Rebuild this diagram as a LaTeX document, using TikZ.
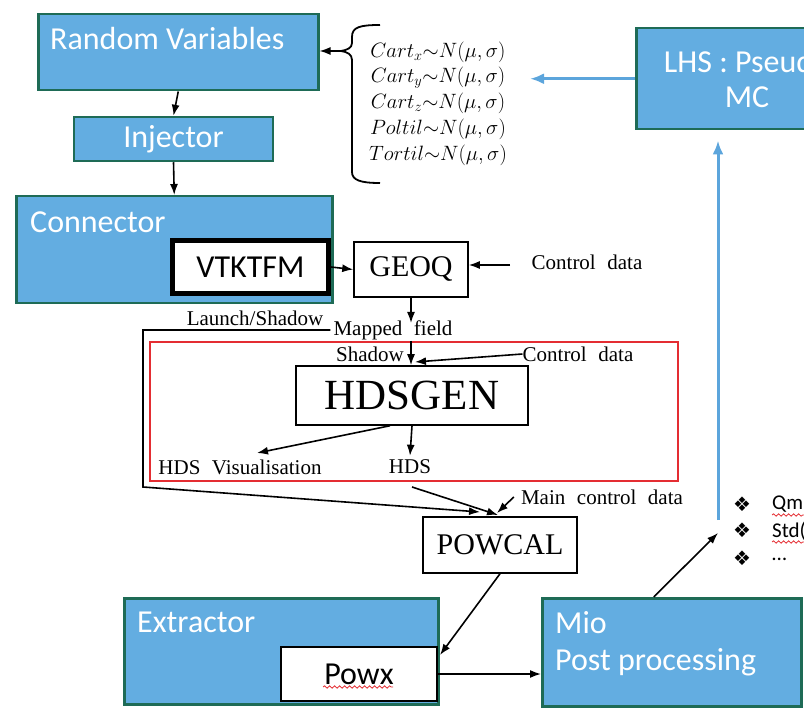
\documentclass[tikz,border=0pt]{standalone}
\usepackage{fontspec}
\setmainfont{Liberation Serif}
\newfontfamily\boxfont{Carlito}
\newfontfamily\symbfont{DejaVu Sans}
\usetikzlibrary{positioning,arrows.meta,calc,decorations.pathmorphing}
\definecolor{boxblue}{RGB}{99,173,225}
\definecolor{boxedge}{RGB}{30,107,86}
\definecolor{arrblue}{RGB}{92,165,220}
\definecolor{framered}{RGB}{228,45,50}
\newcommand\widesp{\spaceskip=0.55em\relax}
\tikzset{
  bluebox/.style={draw=boxedge,line width=2.5pt,fill=boxblue,inner sep=0pt},
  bluetxt/.style={text=white,inner sep=0pt,font=\boxfont\fontsize{32}{40}\selectfont},
  codebox/.style={draw,line width=1.5pt,fill=white,inner sep=0pt,font=\fontsize{30}{34}\selectfont},
  small/.style={inner sep=0pt,font=\fontsize{21}{24}\selectfont,execute at begin node=\widesp},
  formula/.style={inner sep=0pt,font=\fontsize{20}{24}\selectfont},
  bull/.style={inner sep=0pt,font=\symbfont\fontsize{20}{22}\selectfont},
  listtxt/.style={inner sep=0pt,font=\boxfont\fontsize{21}{24}\selectfont},
  flow/.style={->,line width=1.6pt},
  bluearr/.style={-{Latex[length=14pt,width=11pt]},arrblue,line width=3pt},
  wavy/.style={framered,line width=0.8pt,decorate,decoration={snake,amplitude=1.2pt,segment length=5pt}}
}

\begin{document}
\begin{tikzpicture}[x=1pt,y=-1pt,>={Latex[length=11pt,width=8pt]}]
  \useasboundingbox (0,0) rectangle (804,722);
  \clip (0,0) rectangle (804,722);

  \node[bluebox,minimum width=280pt,minimum height=76pt,anchor=north west] (rv) at (37,13) {};
  \node[bluetxt,anchor=west] (rvtxt) at (50,39) {Random Variables};
  \node[bluebox,bluetxt,minimum width=199pt,minimum height=44pt] (inj) at (173.5,139) {Injector};
  \node[bluebox,minimum width=316pt,minimum height=107pt,anchor=north west] (conn) at (15,195) {};
  \node[bluetxt,anchor=west] (conntxt) at (30,222) {Connector};
  \node[draw,line width=5pt,fill=white,inner sep=0pt,minimum width=156pt,minimum height=53pt,
        font=\boxfont\fontsize{32}{36}\selectfont] (vtk) at (250.5,267) {VTKTFM};
  \draw[flow] (rv.south) -- (inj.north);
  \draw[flow] (inj.south) -- (conn.north);

  \draw[line width=1.8pt] (380,25) .. controls (360,25) and (352,27) .. (352,37) -- (352,43)
    .. controls (352,48) and (347,50) .. (341,51) coordinate (cusp)
    .. controls (347,52) and (352,54) .. (352,60) -- (352,172)
    .. controls (352,180) and (360,183) .. (380,183);
  \draw[flow] (cusp) -- (cusp -| rv.east);
  \node[formula] (fx) at (438,52) {$Cart_x{\sim}N(\mu,\sigma)$};
  \node[formula] (fy) at (438,78) {$Cart_y{\sim}N(\mu,\sigma)$};
  \node[formula] (fz) at (438,103) {$Cart_z{\sim}N(\mu,\sigma)$};
  \node[formula] (fp) at (438,129) {$Poltil{\sim}N(\mu,\sigma)$};
  \node[formula] (ft) at (438,155) {$Tortil{\sim}N(\mu,\sigma)$};

  \node[bluebox,minimum width=227pt,minimum height=101pt,anchor=north west] (lhs) at (635,27) {};
  \node[bluetxt,align=center,font=\boxfont\fontsize{32}{35}\selectfont] (lhstxt) at (747,79) {LHS : Pseudo\\MC};
  \draw[bluearr] (lhs.west) -- ++(-105,0);

  \node[codebox,minimum width=114pt,minimum height=55pt] (geoq) at (411,269.5) {GEOQ};
  \node[small] (ctrla) at (587,262) {Control data};
  \coordinate (ctrlaend) at (510,265);
  \draw[flow] (vtk.east) -- (geoq.west);
  \draw[flow] (ctrlaend) -- (ctrlaend -| geoq.east);

  \node[small] (launch) at (255,318) {Launch/Shadow};
  \node[small] (mapped) at (393,330) {Mapped field};
  \coordinate (mftop) at (411,323);
  \coordinate (mfbot) at (411,341);
  \draw[flow] (geoq.south) -- (mftop);

  \draw[framered,line width=1.5pt] (150,342) rectangle (678,481);
  \node[codebox,minimum width=232pt,minimum height=59pt,font=\fontsize{43}{46}\selectfont] (hdsgen) at (412,395.5) {HDSGEN};
  \node[small] (shadow) at (370,354) {Shadow};
  \node[small] (ctrlb) at (578,354) {Control data};
  \coordinate (ctrlbend) at (415,362);
  \draw[flow] (mfbot) -- (mfbot |- hdsgen.north);
  \draw[flow] (ctrlb.west) -- (ctrlbend);
  \node[small] (hdsvis) at (240,467) {HDS Visualisation};
  \node[small] (hds) at (410,467) {HDS};
  \coordinate (visend) at (257,453);
  \draw[flow] ([xshift=-22pt]hdsgen.south) -- (visend);
  \draw[flow] (hdsgen.south) -- ([yshift=4pt]hds.north);

  \node[codebox,minimum width=154pt,minimum height=56pt] (powcal) at (500,545) {POWCAL};
  \node[small] (mainctrl) at (602,497) {Main control data};
  \coordinate (lcorner) at (143,487);
  \coordinate (lend) at (480,512);
  \coordinate (hdsout) at (412,487);
  \coordinate (hdsend) at (498,515);
  \coordinate (mainend) at (497,513);
  \draw[flow] ([xshift=-3pt]mapped.west) -| (lcorner) -- (lend);
  \draw[flow] (hdsout) -- (hdsend);
  \draw[flow] ([xshift=-7pt]mainctrl.west) -- (mainend);

  \node[bluebox,minimum width=314pt,minimum height=106pt,anchor=north west] (extr) at (123,597) {};
  \node[bluetxt,anchor=west] (extrtxt) at (137,622) {Extractor};
  \node[draw,line width=2.5pt,fill=white,inner sep=0pt,minimum width=156pt,minimum height=54pt,
        font=\boxfont\fontsize{32}{36}\selectfont] (powx) at (359,674) {Powx};
  \draw[wavy] (323,687) -- (393,687);
  \node[bluebox,minimum width=259pt,minimum height=108pt,anchor=north west] (mio) at (541,597) {};
  \node[bluetxt,anchor=west] (miotxt) at (555,623) {Mio};
  \node[bluetxt,anchor=west] (pptxt) at (555,662) {Post processing};
  \coordinate (powxin) at (440,655);
  \draw[flow] (powcal.south) -- (powxin);
  \draw[flow] (powx.east) -- (powx.east -| mio.west);

  \node[bull] (b1) at (742,504) {❖};
  \node[bull] (b2) at (742,530) {❖};
  \node[bull] (b3) at (742,558) {❖};
  \node[listtxt,anchor=west] (qm) at (772,504) {Qm};
  \node[listtxt,anchor=west] (std) at (772,531) {Std(};
  \node[listtxt,anchor=west] (dots) at (772,559) {…};
  \draw[wavy] (772,515) -- (804,515);
  \draw[wavy] (772,542) -- (804,542);
  \coordinate (listin) at (718,533);
  \coordinate (upstart) at (718,520);
  \draw[flow] ([xshift=-18pt]mio.north) -- (listin);
  \draw[bluearr,shorten >=10pt] (upstart) -- (upstart |- lhs.south);
\end{tikzpicture}
\end{document}
